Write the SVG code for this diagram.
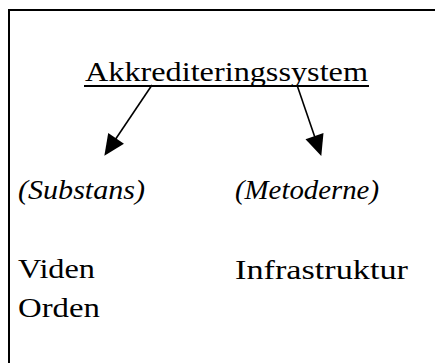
<svg xmlns="http://www.w3.org/2000/svg" width="435" height="363" viewBox="0 0 435 363">
<style>
  .t { font-family: 'Liberation Serif', 'Times New Roman', serif; font-size: 27px; fill: #000; }
  .it { font-style: italic; }
  .conn { stroke: #000; stroke-width: 1.6; fill: none; }
</style>
<defs>
  <marker id="ah" markerUnits="userSpaceOnUse" markerWidth="21" markerHeight="19" refX="17" refY="9.5" orient="auto" overflow="visible">
    <path d="M0,0 L21,9.5 L0,19 z" fill="#000"/>
  </marker>
</defs>
<rect x="0" y="0" width="435" height="363" fill="#fff"/>
<rect id="frame" x="9" y="10" width="440" height="370" fill="none" stroke="#000" stroke-width="2"/>
<g id="root">
  <text class="t" x="85" y="81" textLength="283" lengthAdjust="spacingAndGlyphs">Akkrediteringssystem</text>
  <line x1="84" y1="86" x2="369" y2="86" stroke="#000" stroke-width="2"/>
</g>
<g id="substans">
  <text class="t it" x="18" y="199" textLength="127" lengthAdjust="spacingAndGlyphs">(Substans)</text>
</g>
<g id="metoderne">
  <text class="t it" x="235" y="199" textLength="144" lengthAdjust="spacingAndGlyphs">(Metoderne)</text>
</g>
<g id="viden-orden">
  <text class="t" x="18" y="278" textLength="77" lengthAdjust="spacingAndGlyphs">Viden</text>
  <text class="t" x="18" y="317" textLength="82" lengthAdjust="spacingAndGlyphs">Orden</text>
</g>
<g id="infrastruktur">
  <text class="t" x="235" y="279" textLength="173" lengthAdjust="spacingAndGlyphs">Infrastruktur</text>
</g>
<g id="connectors">
  <line class="conn" x1="152" y1="85" x2="106.6" y2="152.5" marker-end="url(#ah)"/>
  <line class="conn" x1="297" y1="85" x2="320" y2="152.2" marker-end="url(#ah)"/>
</g>
</svg>
